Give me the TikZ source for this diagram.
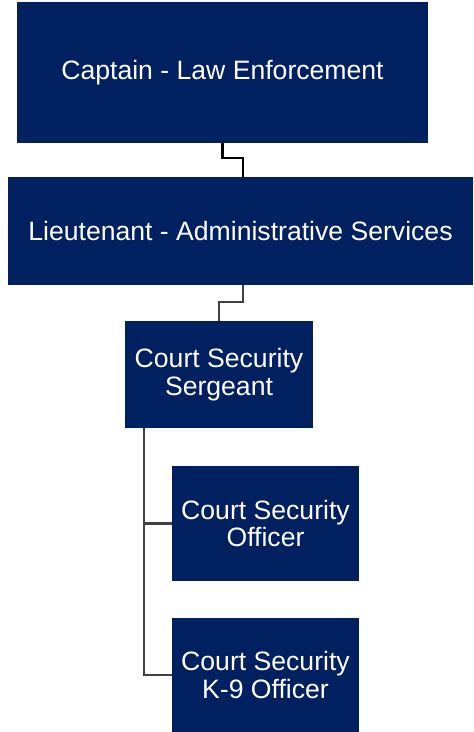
\documentclass[tikz,border=0pt]{standalone}
\usepackage{fontspec}
\setmainfont{Liberation Sans}
\usetikzlibrary{calc}
\definecolor{navy}{HTML}{002060}
\definecolor{conn}{HTML}{404040}
\begin{document}
\begin{tikzpicture}[x=1pt,y=-1pt,
  orgbox/.style={fill=navy, draw=none, text=white, inner sep=0pt, align=center,
    font=\fontsize{26.6}{27.5}\selectfont},
  link/.style={line width=2.4pt, conn}]
\useasboundingbox[fill=white] (0,0) rectangle (474,732);
\node[orgbox, minimum width=411pt, minimum height=141pt] (cap) at (222.5,72.5) {Captain - Law Enforcement};
\node[orgbox, minimum width=465pt, minimum height=108pt] (lt) at (240.5,231) {Lieutenant - Administrative Services};
\node[orgbox, minimum width=188pt, minimum height=107pt] (sg) at (219,374.5) {Court Security\\Sergeant};
\node[orgbox, minimum width=187pt, minimum height=115pt] (off) at (265.5,523.5) {Court Security\\Officer};
\node[orgbox, minimum width=187pt, minimum height=114pt] (k9) at (265.5,675) {Court Security\\K-9 Officer};
\coordinate (j1) at ($(cap.south)+(0,15)$);
\draw[link, black] (cap.south) -- (j1) -| ($(lt.north)+(2.5,0)$);
\coordinate (j2) at ($(lt.south)+(2.5,17)$);
\draw[link] ($(lt.south)+(2.5,0)$) -- (j2) -| (sg.north);
\coordinate (s0) at ($(sg.south west)+(19,0)$);
\draw[link] (s0) |- (k9.west);
\draw[link] (s0) |- (off.west);
\end{tikzpicture}
\end{document}
